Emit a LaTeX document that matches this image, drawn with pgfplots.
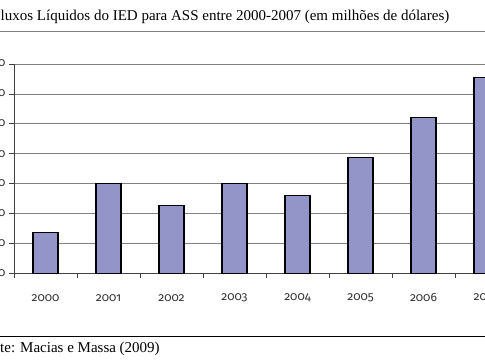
\documentclass[border=0pt]{standalone}
\usepackage{pgfplots}
\pgfplotsset{compat=1.18}
\usepackage{fontspec}
\setmainfont{Liberation Serif}
\newfontfamily\tickfont[RawFeature={+onum}]{Fira Sans}
\definecolor{barfill}{HTML}{9395C8}
\definecolor{gridc}{HTML}{808080}
\definecolor{axisc}{HTML}{404040}
\begin{document}
\begin{tikzpicture}[x=1pt,y=1pt]
\path[use as bounding box] (0,0) rectangle (485,360);
\clip (0,0) rectangle (485,360);
\draw[gridc, line width=1.3pt] (0,328.5) -- (485,328.5);
\draw[black, line width=0.8pt] (0,24) -- (485,24);
\node[anchor=base west, inner sep=0pt, font=\fontsize{15}{18}\selectfont] at (0.5,340) {\llap{F}luxos Líquidos do IED para ASS entre 2000-2007 (em milhões de dólares)};
\node[anchor=base west, inner sep=0pt, font=\fontsize{15}{18}\selectfont] at (0,7.5) {\llap{Fon}te: Macias e Massa (2009)};
\begin{axis}[
  at={(14pt,86.7pt)}, anchor=south west, scale only axis,
  width=504pt, height=209.3pt,
  xmin=-0.5, xmax=7.5, ymin=0, ymax=35000,
  axis x line=bottom, axis y line=left,
  axis line style={-, axisc, line width=0.8pt},
  ytick={0,5000,...,35000},
  scaled y ticks=false,
  /pgf/number format/1000 sep={},
  /pgf/number format/assume math mode=true,
  xtick={-0.5,0.5,...,7.5},
  xticklabels={{\tickfont 2000},{\tickfont 2001},{\tickfont 2002},{\tickfont 2003},{\tickfont 2004},{\tickfont 2005},{\tickfont 2006},{\tickfont 2007},{}},
  xticklabel style={font=\fontsize{12}{14}\selectfont\tickfont, color=black!80, anchor=center, xshift=31.5pt, yshift=-20pt},
  yticklabel style={font=\fontsize{12}{14}\selectfont\tickfont, color=black!80, anchor=east, inner sep=0pt, xshift=-4pt},
  tick align=outside, major tick length=4.5pt,
  tick style={axisc, line width=0.7pt},
  ymajorgrids, grid style={gridc, line width=0.8pt},
  clip=false,
]
\addplot[ybar, bar width=25pt, fill=barfill, draw=black, line width=1.1pt] coordinates {
(0,6750) (1,15000) (2,11400) (3,14950) (4,13000) (5,19400) (6,26100) (7,32750)};
\end{axis}
\end{tikzpicture}
\end{document}
